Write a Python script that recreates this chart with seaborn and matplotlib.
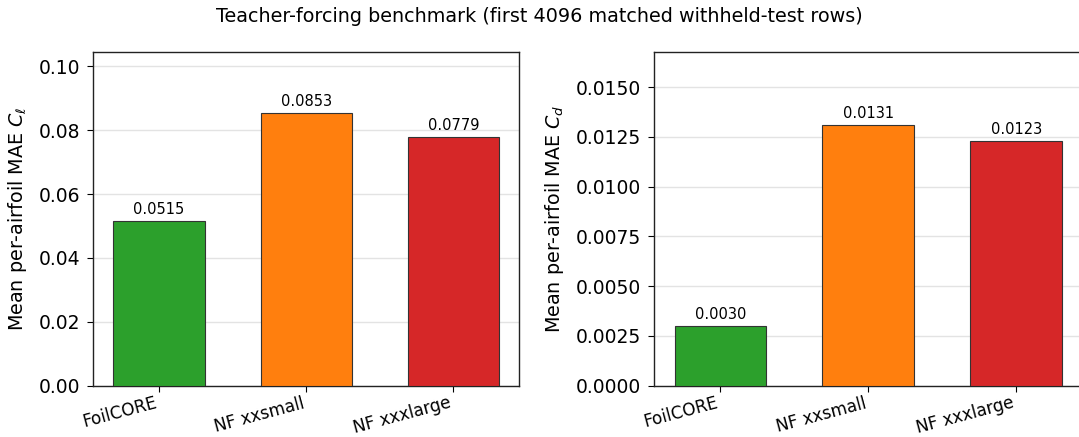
import matplotlib
matplotlib.use("Agg")
import matplotlib.pyplot as plt
from matplotlib.ticker import MultipleLocator, FormatStrFormatter
import seaborn as sns
import pandas as pd

models = ["FoilCORE", "NF xxsmall", "NF xxxlarge"]
mae_cl = [0.0515, 0.0853, 0.0779]
mae_cd = [0.0030, 0.0131, 0.0123]
colors = ["#2ca02c", "#ff7f0e", "#d62728"]

sns.set_style("ticks")
plt.rcParams["font.family"] = ["DejaVu Sans"]
for key in ("text.color", "axes.labelcolor", "xtick.color", "ytick.color"):
    plt.rcParams[key] = "black"

fig = plt.figure(figsize=(10.79, 4.37), dpi=100)
ax_cl = fig.add_axes([0.0865, 0.1174, 0.3945, 0.7636])
ax_cd = fig.add_axes([0.6064, 0.1174, 0.3966, 0.7636])

panels = [
    (ax_cl, mae_cl, r"Mean per-airfoil MAE $C_\ell$", 0.1045, 0.02, "%.2f"),
    (ax_cd, mae_cd, r"Mean per-airfoil MAE $C_d$", 0.01677, 0.0025, "%.4f"),
]

for ax, vals, ylabel, ytop, step, tickfmt in panels:
    df = pd.DataFrame({"model": models, "mae": vals})
    sns.barplot(data=df, x="model", y="mae", hue="model", palette=colors,
                saturation=1, width=0.62, edgecolor="#333333", linewidth=0.8,
                legend=False, ax=ax, zorder=3)
    ax.set_xlim(-0.447, 2.447)
    ax.set_ylim(0, ytop)
    ax.yaxis.set_major_locator(MultipleLocator(step))
    ax.yaxis.set_major_formatter(FormatStrFormatter(tickfmt))
    ax.grid(axis="y", color="#e3e3e3", linewidth=1.0, zorder=0)
    ax.set_axisbelow(True)
    ax.set_xlabel("")
    ax.set_ylabel(ylabel, fontsize=13.8, labelpad=7)
    ax.tick_params(axis="y", labelsize=13.5, color="black", length=4.5, pad=5)
    ax.tick_params(axis="x", labelsize=12.2, color="black", length=4.5, pad=1.5)
    for lbl in ax.get_xticklabels():
        lbl.set_rotation(15)
        lbl.set_ha("right")
    for spine in ax.spines.values():
        spine.set_visible(True)
        spine.set_linewidth(1.0)
        spine.set_color("#222222")
    for container in ax.containers:
        ax.bar_label(container, labels=["{:.4f}".format(v) for v in container.datavalues],
                     padding=3, fontsize=10.5)

fig.suptitle("Teacher-forcing benchmark (first 4096 matched withheld-test rows)",
             fontsize=13.8, y=0.985)

fig.savefig("out.png", dpi=100)
